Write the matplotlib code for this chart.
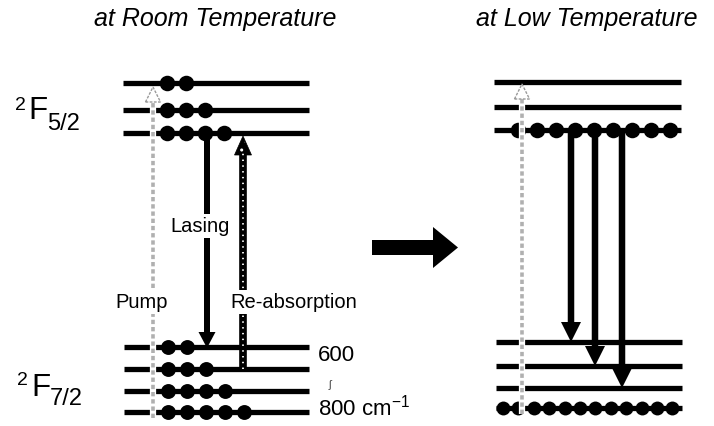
import numpy as np
import matplotlib.pyplot as plt
from matplotlib.patches import Polygon, FancyArrow

plt.rcParams['font.family'] = ['Liberation Sans', 'DejaVu Sans']

# energy levels (drawing units, up = higher energy) and ions drawn on each level
room_upper = [343, 316, 293]
room_upper_pop = [2, 3, 4]
room_lower = [79, 57, 35, 14]
room_lower_pop = [2, 3, 4, 5]

low_upper = [344, 319, 296]
low_upper_pop = [0, 0, 9]
low_lower = [84, 60, 38, 18]
low_lower_pop = [0, 0, 0, 12]

titles = ['at Room Temperature', 'at Low Temperature']
split_labels = ['600', '800 cm$^{\\mathregular{-1}}$']

fig = plt.figure(figsize=(7.14, 4.27), dpi=100)
ax = fig.add_axes([0, 0, 1, 1])
ax.set_xlim(0, 714)
ax.set_ylim(0, 427)
ax.axis('off')


def levels(ys, pops, x0, x1, dot0, step, size):
    for y, n in zip(ys, pops):
        ax.plot([x0, x1], [y, y], color='black', lw=3.8, solid_capstyle='butt', zorder=2)
        if n:
            xs = dot0 + step * np.arange(n)
            ax.scatter(xs, [y] * n, s=size, color='black', zorder=3, linewidths=0)


def head(x, ytip, w, l, direction, **kw):
    yb = ytip - direction * l
    p = Polygon([[x - w / 2, yb], [x + w / 2, yb], [x, ytip]], closed=True, **kw)
    ax.add_patch(p)


def pump(x, y0, y1):
    ax.plot([x, x], [y0, y1 - 14], color='white', lw=4.5, solid_capstyle='butt', zorder=4)
    ax.plot([x, x], [y0, y1 - 14], color='#b0b0b0', lw=2.6, ls=(0, (1.2, 0.8)), zorder=5)
    head(x, y1, 15, 15, 1, fc='white', ec='#9a9a9a', lw=1.0, ls=(0, (2, 1)), zorder=5)


def down(x, y0, y1, w=6, hw=17, hl=16):
    ax.add_patch(FancyArrow(x, y0, 0, y1 - y0, width=w, head_width=hw, head_length=hl,
                            length_includes_head=True, color='black', lw=0, zorder=5))


# left panel: room temperature
levels(room_upper, room_upper_pop, 123, 309, 167, 19, 125)
levels(room_lower, room_lower_pop, 124, 309, 168, 19, 115)
pump(153, 8, 339)
down(207, room_upper[2], room_lower[0] - 1)

# re-absorption arrow (chain-like)
xr = 243
ax.plot([xr, xr], [room_lower[1], 274], color='black', lw=5.5, solid_capstyle='butt', zorder=5)
ax.plot([xr, xr], [room_lower[1], 274], color='white', lw=1.3, ls=(0, (0.8, 2.4)), zorder=6)
head(xr, 290, 17, 19, 1, fc='black', ec='black', lw=0.5, zorder=5)
head(xr, 287, 11, 13, 1, fill=False, ec='white', lw=0, hatch='..', zorder=6)

bb = dict(facecolor='white', edgecolor='none', pad=1.5)
ax.text(200, 200, 'Lasing', fontsize=14.5, ha='center', va='center', bbox=bb, zorder=7)
ax.text(168, 124, 'Pump', fontsize=14.5, ha='right', va='center', bbox=bb, zorder=7)
ax.text(230, 124, 'Re-absorption', fontsize=14.5, ha='left', va='center', bbox=bb, zorder=7)
ax.text(318, 71, split_labels[0], fontsize=16, ha='left', va='center')
ax.text(318, 19, split_labels[1], fontsize=16, ha='left', va='center')
ax.text(330, 42, '\u0283', fontsize=8, ha='center', va='center', color='#444444')

# term symbols
ax.text(15, 317, '2', fontsize=14, va='baseline')
ax.text(28, 308, 'F', fontsize=22.5, va='baseline')
ax.text(47, 297, '5/2', fontsize=17, va='baseline')
ax.text(17, 42, '2', fontsize=14, va='baseline')
ax.text(31, 31, 'F', fontsize=22.5, va='baseline')
ax.text(50, 22, '7/2', fontsize=17, va='baseline')

# big arrow between panels
ax.add_patch(FancyArrow(372, 178.5, 86, 0, width=15, head_width=41, head_length=25,
                        length_includes_head=True, color='black', lw=0))

# right panel: low temperature
levels(low_upper, low_upper_pop, 494, 681, 518, 19, 125)
levels(low_lower, low_lower_pop, 496, 682, 503, 15.4, 100)
pump(522, 12, 342)
for xa, yt in zip([571, 595, 622], low_lower[:3]):
    down(xa, low_upper[2], yt, w=6.5, hw=20, hl=20)

ax.text(215, 408, titles[0], fontsize=18, style='italic', ha='center', va='center')
ax.text(587, 408, titles[1], fontsize=18, style='italic', ha='center', va='center')

fig.savefig('out.png', dpi=100)
